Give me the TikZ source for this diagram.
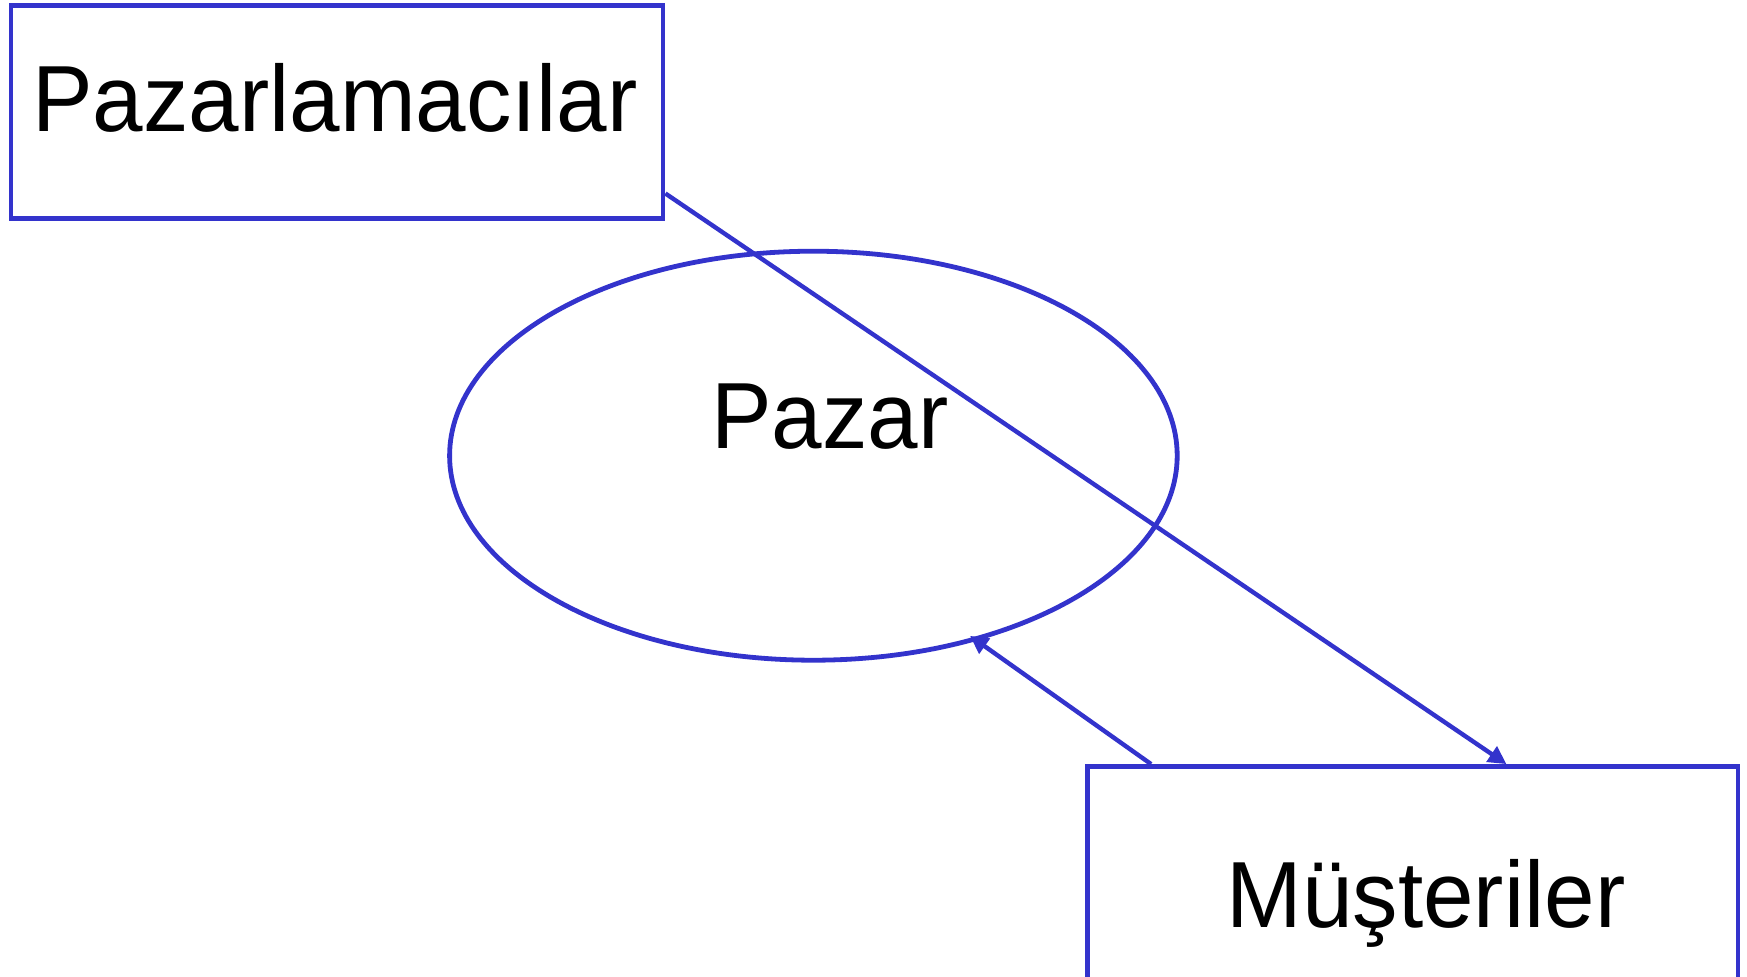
\documentclass[tikz,border=0pt]{standalone}
\usepackage{fontspec}
\setmainfont{Liberation Sans}[FakeStretch=0.966]
\usetikzlibrary{shapes.geometric,arrows.meta,calc}
\definecolor{linkblue}{RGB}{51,51,204}
\begin{document}
\begin{tikzpicture}[x=0.5pt,y=-0.5pt,
  boxshape/.style={draw=linkblue,line width=2.4pt,rectangle,inner sep=0pt},
  ovalshape/.style={draw=linkblue,line width=2.4pt,ellipse,inner sep=0pt,
    minimum width=363.8pt,minimum height=204.5pt},
  word/.style={anchor=base,inner sep=0pt,font=\fontsize{47}{50}\selectfont},
  conn/.style={draw=linkblue,line width=2.2pt,-{Triangle[length=9pt,width=9pt]}}]
  \useasboundingbox (0,0) rectangle (1747,976);
  \clip (0,0) rectangle (1747,976);
  % the two parties and the market between them
  \node[boxshape,minimum width=326pt,minimum height=106.25pt] (sellers) at (337,112) {};
  \node[boxshape,minimum width=325.25pt,minimum height=141.75pt] (buyers) at (1412.75,908.25) {};
  \node[ovalshape] (market) at (813.4,455.7) {};
  % labels
  \node[word] (sellerstext) at (335,131.5) {Pazarlamacılar};
  \node[word] (markettext) at (830,448) {Pazar};
  \node[word] (buyerstext) at (1426,927) {Müşteriler};
  % flows
  \draw[conn] ($(sellers.north east)!0.875!(sellers.south east)$) -- ($(buyers.north west)!0.643!(buyers.north east)$);
  \draw[conn] ($(buyers.north west)!0.1007!(buyers.north east)$) -- ($(market.center)!0.97!(market.-49)$);
\end{tikzpicture}
\end{document}
